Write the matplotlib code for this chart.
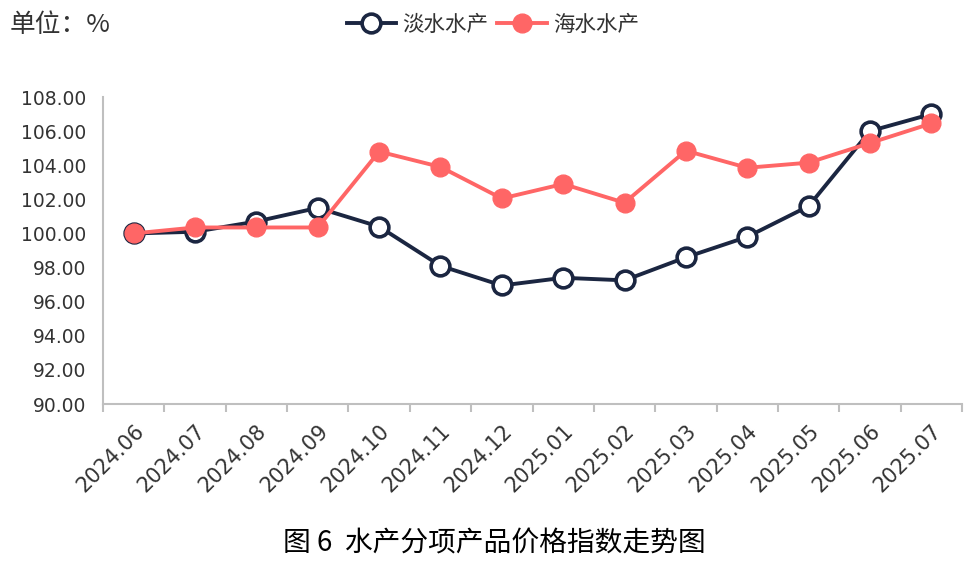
import matplotlib
matplotlib.use("Agg")
import matplotlib.pyplot as plt

months = ["2024.06", "2024.07", "2024.08", "2024.09", "2024.10", "2024.11", "2024.12",
          "2025.01", "2025.02", "2025.03", "2025.04", "2025.05", "2025.06", "2025.07"]
freshwater = [100.0, 100.1, 100.7, 101.5, 100.4, 98.1, 96.95, 97.4, 97.25, 98.6, 99.8, 101.6, 106.0, 107.0]
seawater = [100.0, 100.35, 100.35, 100.35, 104.8, 103.9, 102.05, 102.9, 101.8, 104.85, 103.85, 104.15, 105.3, 106.45]
yticks = [90, 92, 94, 96, 98, 100, 102, 104, 106, 108]

plt.rcParams['font.family'] = ['Noto Sans CJK SC', 'DejaVu Sans']

fig = plt.figure(figsize=(9.76, 5.69), dpi=100)
ax = fig.add_axes([103/976, 1-404/569, (962-103)/976, (404-97)/569])

dark = '#1b2641'
red = '#ff6666'
x = list(range(len(months)))
ax.plot(x, freshwater, color=dark, lw=2.8, marker='o', ms=13.5, mfc='white', mec=dark, mew=2.6,
        label='淡水水产', zorder=3)
ax.plot(x, seawater, color=red, lw=2.8, marker='o', ms=13.5, mfc=red, mec=red, mew=1,
        label='海水水产', zorder=4)

ax.set_xlim(-0.5, len(months) - 0.5)
ax.set_ylim(90, 108)
ax.set_yticks(yticks)
ax.set_yticklabels([f"{v:.2f}" for v in yticks], fontdict=dict(family='DejaVu Sans', size=13.5),
                   color='#333333')
ax.set_xticks([i - 0.5 for i in range(len(months) + 1)], minor=False)
ax.set_xticklabels([])
ax.set_xticks(x, minor=True)
ax.set_xticklabels(months, minor=True, rotation=45, ha='right', rotation_mode='anchor',
                   fontdict=dict(family='DejaVu Sans', size=15), color='#333333')
ax.tick_params(axis='x', which='major', length=6, color='#bfbfbf', width=1.5)
ax.tick_params(axis='x', which='minor', length=0, pad=12)
ax.tick_params(axis='y', length=0, pad=12)
for s in ['top', 'right']:
    ax.spines[s].set_visible(False)
for s in ['left', 'bottom']:
    ax.spines[s].set_color('#bfbfbf')
    ax.spines[s].set_linewidth(1.5)

fig.text(10/976, 1-25/569, '单位：%', fontsize=18.5, color='#333333', va='center', ha='left')
fig.legend(loc='center', bbox_to_anchor=(0.505, 1-25/569), ncol=2, frameon=False, fontsize=15.5,
           handlelength=2.3, columnspacing=0.4, handletextpad=0.3, labelcolor='#333333')
fig.text(0.506, 1-543/569, '图 6  水产分项产品价格指数走势图', fontsize=20, color='#000000',
         ha='center', va='center')

fig.savefig('out.png', dpi=100)
